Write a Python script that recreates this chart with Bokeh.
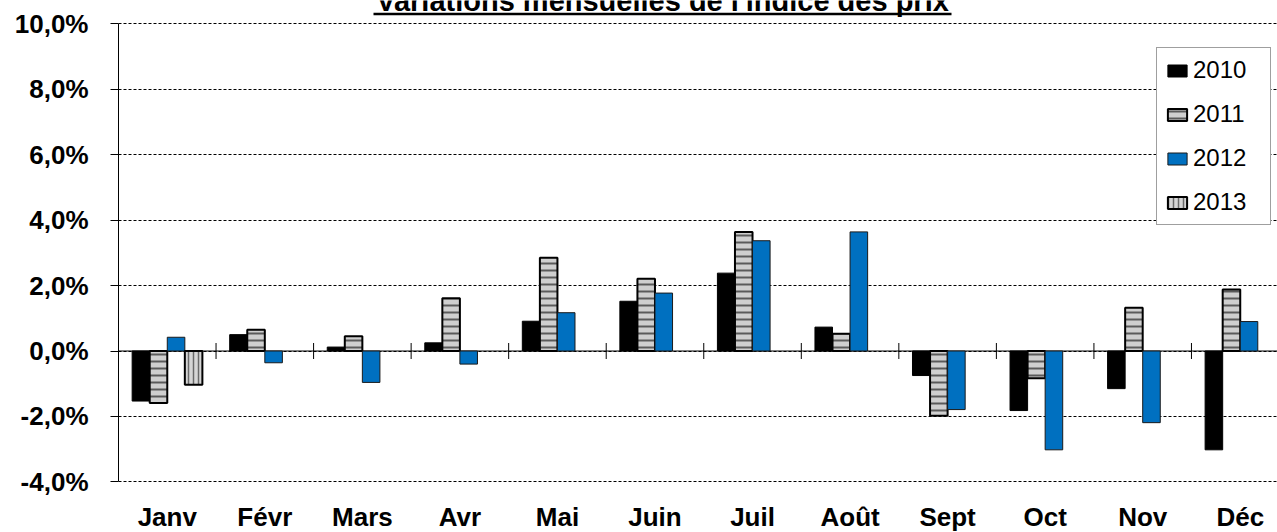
import numpy as np
from bokeh.plotting import figure
from bokeh.models import Range1d, FixedTicker, Span
from bokeh.core.properties import value
from bokeh.embed import file_html
from bokeh.resources import INLINE

# ---------------- data ----------------
months = ["Janv", "Févr", "Mars", "Avr", "Mai", "Juin", "Juil", "Août",
          "Sept", "Oct", "Nov", "Déc"]
years = ["2010", "2011", "2012", "2013"]
v2010 = [-1.53, 0.50, 0.12, 0.25, 0.91, 1.52, 2.38, 0.73, -0.75, -1.82, -1.15, -3.02]
v2011 = [-1.59, 0.65, 0.45, 1.61, 2.85, 2.21, 3.64, 0.53, -1.98, -0.83, 1.32, 1.88]
v2012 = [0.42, -0.36, -0.96, -0.40, 1.17, 1.77, 3.37, 3.64, -1.79, -3.02, -2.19, 0.90]
v2013 = [-1.03, np.nan, np.nan, np.nan, np.nan, np.nan, np.nan, np.nan,
         np.nan, np.nan, np.nan, np.nan]
y_ticks = [-4, -2, 0, 2, 4, 6, 8, 10]
y_tick_labels = ["-4,0%", "-2,0%", "0,0%", "2,0%", "4,0%", "6,0%", "8,0%", "10,0%"]
title_text = "Variations mensuelles de l'indice des prix"

FONT = "Liberation Sans"

# ---------------- layout ----------------
W, H = 1277, 532
FL = 118                      # left edge of the plotting area (px)
X0, X1 = 0.0, 11.882          # visible category span (chart is cut at right)
Y0, Y1 = -5.547, 10.712       # frame covers the whole height of the canvas


def dx(px):
    return X0 + (px - FL) / (W - FL) * (X1 - X0)


def dy(py):
    return Y1 - py / H * (Y1 - Y0)


p = figure(width=W, height=H, title=None,
           x_range=Range1d(X0, X1), y_range=Range1d(Y0, Y1),
           output_backend="svg", toolbar_location=None,
           x_axis_location=None,
           min_border_left=FL, min_border_right=0,
           min_border_top=0, min_border_bottom=0)
p.outline_line_color = None
p.background_fill_color = "white"
p.border_fill_color = "white"

# y axis
ax = p.yaxis[0]
ax.ticker = FixedTicker(ticks=y_ticks)
ax.bounds = (min(y_ticks), max(y_ticks))
ax.major_label_overrides = {t: l for t, l in zip(y_ticks, y_tick_labels)}
ax.major_label_text_font = FONT
ax.major_label_text_font_style = "bold"
ax.major_label_text_font_size = "26px"
ax.major_label_text_color = "black"
ax.major_label_standoff = 22
ax.major_tick_out = 8
ax.major_tick_in = 0
ax.minor_tick_out = 0
ax.minor_tick_in = 0
ax.axis_line_color = "black"
ax.major_tick_line_color = "black"

p.ygrid.ticker = FixedTicker(ticks=y_ticks)
p.ygrid.grid_line_color = "black"
p.ygrid.grid_line_dash = "3 2"
p.ygrid.grid_line_width = 1
p.xgrid.visible = False

# zero line and category separators
p.add_layout(Span(location=0, dimension="width", line_color="black",
                  line_width=1, level="underlay"))
xb = np.arange(1, len(months))
p.scatter(xb, np.zeros(len(xb)), marker="dash", angle=np.pi / 2, size=16,
          line_color="black", line_width=1)

# bars
xc = np.arange(len(months)) + 0.5
bw = 0.18
offsets = [-1.5 * bw, -0.5 * bw, 0.5 * bw, 1.5 * bw]
series = [v2010, v2011, v2012, v2013]
styles = [
    dict(fill_color="black", line_color="black", line_width=1),
    dict(fill_color="#cfcfcf", line_color="black", line_width=2,
         hatch_pattern="horizontal_line", hatch_color="#5a5a5a",
         hatch_scale=7, hatch_weight=2),
    dict(fill_color="#0070C0", line_color="#1a1a1a", line_width=1),
    dict(fill_color="#d6d6d6", line_color="black", line_width=2,
         hatch_pattern="vertical_line", hatch_color="#6a6a6a",
         hatch_scale=5, hatch_weight=1.5),
]
for yr, vals, off, st in zip(years, series, offsets, styles):
    p.vbar(x=xc + off, top=vals, bottom=0, width=bw,
           legend_label=yr, **st)

# category labels (low position, below the -4% line)
p.text(x=xc, y=np.full(len(months), dy(516)), text=months,
       text_align="center", text_baseline="alphabetic",
       text_font=value(FONT), text_font_style="bold",
       text_font_size="26px", text_color="black")

# title (cut at the top as in the original) + underline
p.text(x=[dx(662)], y=[dy(0.5)], text=[title_text],
       text_align="center", text_baseline="alphabetic",
       text_font=value(FONT), text_font_style="bold",
       text_font_size="29px", text_color="black")
p.segment(x0=[dx(373)], y0=[dy(13.5)], x1=[dx(951)], y1=[dy(13.5)],
          line_color="black", line_width=2.5)

# legend
leg = p.legend[0]
leg.location = (1038, 307)
leg.margin = 0
leg.padding = 8
leg.spacing = 16
leg.glyph_width = 24
leg.glyph_height = 15
leg.label_standoff = 4
leg.label_width = 69
leg.label_height = 20
leg.label_text_font = FONT
leg.label_text_font_size = "24px"
leg.label_text_color = "black"
leg.border_line_color = "#404040"
leg.border_line_width = 1.5
leg.background_fill_color = "white"
leg.background_fill_alpha = 1

open("out.html", "w").write(file_html(p, INLINE))
